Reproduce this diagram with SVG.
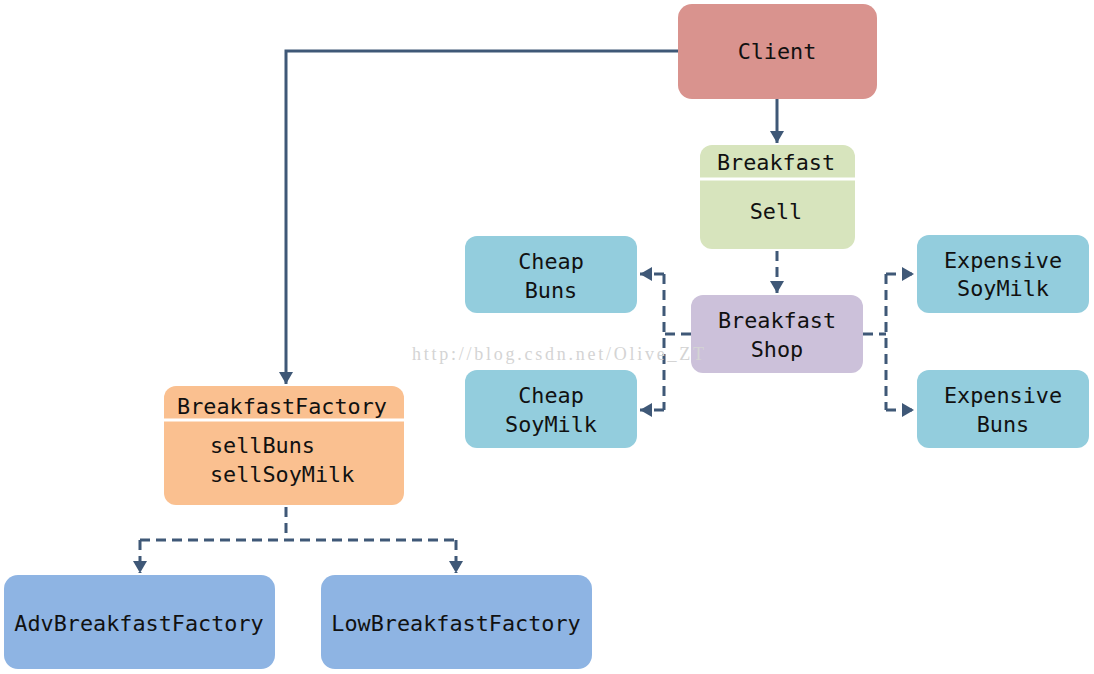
<svg xmlns="http://www.w3.org/2000/svg" width="1094" height="674" viewBox="0 0 1094 674">
<defs>
<marker id="ah" viewBox="0 0 12 14" refX="12" refY="7" markerWidth="12" markerHeight="14" markerUnits="userSpaceOnUse" orient="auto">
<path d="M0,0 L12,7 L0,14 Z" fill="#3F5877"/>
</marker>
<style>
text{font-family:"DejaVu Sans Mono","Liberation Mono",monospace;font-size:21.8px;fill:#111;text-anchor:middle;dominant-baseline:central}
.c{fill:none;stroke:#3F5877;stroke-width:3}
.d{stroke-dasharray:10 6}
.sep{stroke:#fff;stroke-width:3}
.wm{font-family:"Liberation Serif",serif;font-size:18px;fill:#d4d4d4;text-anchor:start}
</style>
</defs>
<rect width="1094" height="674" fill="#fff"/>
<g id="connectors">
<path class="c" d="M678,51 H286 V384" marker-end="url(#ah)"/>
<path class="c" d="M777,99 V143" marker-end="url(#ah)"/>
<path class="c d" d="M777,251 V293" marker-end="url(#ah)"/>
<path class="c d" d="M691,334 H664"/>
<path class="c d" d="M664,274 V410"/>
<path class="c d" d="M664,274 H640" marker-end="url(#ah)"/>
<path class="c d" d="M664,410 H640" marker-end="url(#ah)"/>
<path class="c d" d="M863,334 H886"/>
<path class="c d" d="M886,274 V410"/>
<path class="c d" d="M886,274 H914" marker-end="url(#ah)"/>
<path class="c d" d="M886,410 H914" marker-end="url(#ah)"/>
<path class="c d" d="M286,507 V540"/>
<path class="c d" d="M140,540 H456"/>
<path class="c d" d="M140,540 V573" marker-end="url(#ah)"/>
<path class="c d" d="M456,540 V573" marker-end="url(#ah)"/>
</g>
<g id="client">
<rect x="678" y="4" width="199" height="95" rx="14" fill="#D9938E"/>
<text x="777" y="51">Client</text>
</g>
<g id="breakfast">
<rect x="700" y="145" width="155" height="104" rx="12" fill="#D7E4BD"/>
<line class="sep" x1="700" y1="179" x2="855" y2="179"/>
<text x="776" y="162">Breakfast</text>
<text x="776" y="211">Sell</text>
</g>
<g id="shop">
<rect x="691" y="295" width="172" height="78" rx="12" fill="#CCC1DA"/>
<text x="777" y="320">Breakfast</text>
<text x="777" y="349">Shop</text>
</g>
<g id="cheapBuns">
<rect x="465" y="236" width="172" height="77" rx="12" fill="#93CDDD"/>
<text x="551" y="261">Cheap</text>
<text x="551" y="290">Buns</text>
</g>
<g id="cheapSoyMilk">
<rect x="465" y="370" width="172" height="78" rx="12" fill="#93CDDD"/>
<text x="551" y="395">Cheap</text>
<text x="551" y="424">SoyMilk</text>
</g>
<g id="expSoyMilk">
<rect x="917" y="235" width="172" height="78" rx="12" fill="#93CDDD"/>
<text x="1003" y="260">Expensive</text>
<text x="1003" y="288">SoyMilk</text>
</g>
<g id="expBuns">
<rect x="917" y="370" width="172" height="78" rx="12" fill="#93CDDD"/>
<text x="1003" y="395">Expensive</text>
<text x="1003" y="424">Buns</text>
</g>
<g id="factory">
<rect x="164" y="386" width="240" height="119" rx="12" fill="#FAC090"/>
<line class="sep" x1="164" y1="420" x2="404" y2="420"/>
<text x="282" y="406">BreakfastFactory</text>
<text x="210" y="445" style="text-anchor:start">sellBuns</text>
<text x="210" y="474" style="text-anchor:start">sellSoyMilk</text>
</g>
<g id="advFactory">
<rect x="4" y="575" width="271" height="94" rx="14" fill="#8EB4E3"/>
<text x="139" y="623">AdvBreakfastFactory</text>
</g>
<g id="lowFactory">
<rect x="321" y="575" width="271" height="94" rx="14" fill="#8EB4E3"/>
<text x="456" y="623">LowBreakfastFactory</text>
</g>
<text class="wm" x="412" y="354" textLength="292" lengthAdjust="spacing">http://blog.csdn.net/Olive_ZT</text>
</svg>
